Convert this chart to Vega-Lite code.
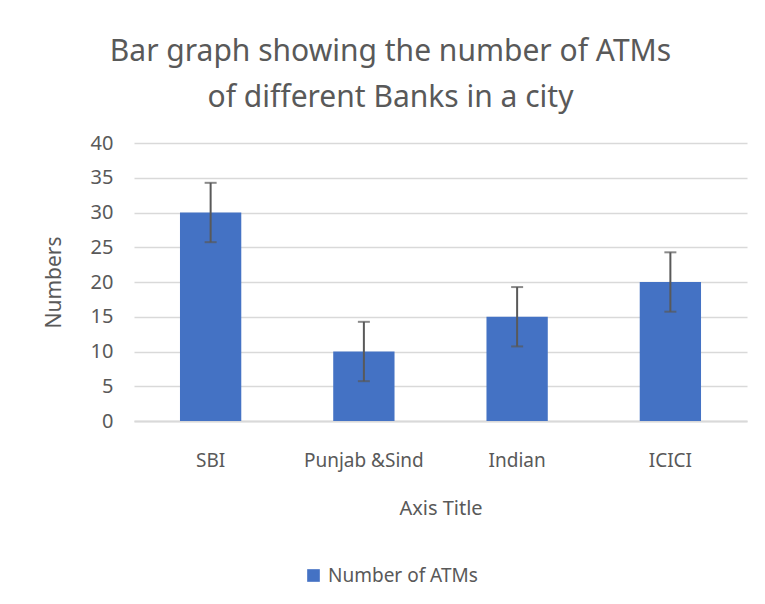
{
  "$schema": "https://vega.github.io/schema/vega-lite/v6.json",
  "width": 613,
  "height": 278,
  "autosize": {"type": "none"},
  "padding": {"left": 134, "top": 143, "right": 18, "bottom": 183},
  "background": "white",
  "config": {"view": {"stroke": null}},
  "title": {
    "text": ["Bar graph showing the number of ATMs", "of different Banks in a city"],
    "font": "Noto Sans",
    "fontSize": 30,
    "fontWeight": "normal",
    "color": "#595959",
    "lineHeight": 46,
    "anchor": "middle",
    "frame": "group",
    "dx": -50,
    "offset": 20
  },
  "data": {
    "values": [
      {"bank": "SBI", "atms": 30, "err": 4.27, "series": "Number of ATMs"},
      {"bank": "Punjab &Sind", "atms": 10, "err": 4.27, "series": "Number of ATMs"},
      {"bank": "Indian", "atms": 15, "err": 4.27, "series": "Number of ATMs"},
      {"bank": "ICICI", "atms": 20, "err": 4.27, "series": "Number of ATMs"}
    ]
  },
  "encoding": {
    "x": {
      "field": "bank",
      "type": "nominal",
      "sort": null,
      "scale": {"paddingInner": 0.6, "paddingOuter": 0.3},
      "axis": {
        "title": "Axis Title",
        "labelAngle": 0,
        "labelFont": "Noto Sans",
        "labelFontSize": 19,
        "labelColor": "#595959",
        "labelPadding": 30,
        "titleFont": "Noto Sans",
        "titleFontSize": 20,
        "titleFontWeight": "normal",
        "titleColor": "#595959",
        "titlePadding": 28,
        "ticks": false,
        "domainColor": "#D9D9D9",
        "domainWidth": 2
      }
    },
    "y": {
      "field": "atms",
      "type": "quantitative",
      "scale": {"domain": [0, 40]},
      "axis": {
        "title": "Numbers",
        "values": [0, 5, 10, 15, 20, 25, 30, 35, 40],
        "labelFont": "Noto Sans",
        "labelFontSize": 20,
        "labelColor": "#595959",
        "labelPadding": 21,
        "titleFont": "Noto Sans",
        "titleFontSize": 21,
        "titleFontWeight": "normal",
        "titleColor": "#595959",
        "titlePadding": 26,
        "ticks": false,
        "domain": false,
        "gridColor": "#D9D9D9",
        "gridWidth": 1.5
      }
    }
  },
  "layer": [
    {
      "mark": {"type": "bar", "color": "#4472C4"},
      "encoding": {
        "color": {
          "field": "series",
          "type": "nominal",
          "scale": {"range": ["#4472C4"]},
          "legend": {
            "title": null,
            "orient": "none",
            "legendX": 170,
            "legendY": 423,
            "symbolType": "square",
            "symbolSize": 160,
            "symbolStrokeWidth": 0,
            "labelFont": "Noto Sans",
            "labelFontSize": 19,
            "labelColor": "#595959",
            "labelOffset": 5
          }
        }
      }
    },
    {
      "mark": {
        "type": "errorbar",
        "color": "#595959",
        "thickness": 2,
        "ticks": {"size": 12, "thickness": 2, "color": "#595959"}
      },
      "encoding": {
        "yError": {"field": "err"}
      }
    }
  ]
}
